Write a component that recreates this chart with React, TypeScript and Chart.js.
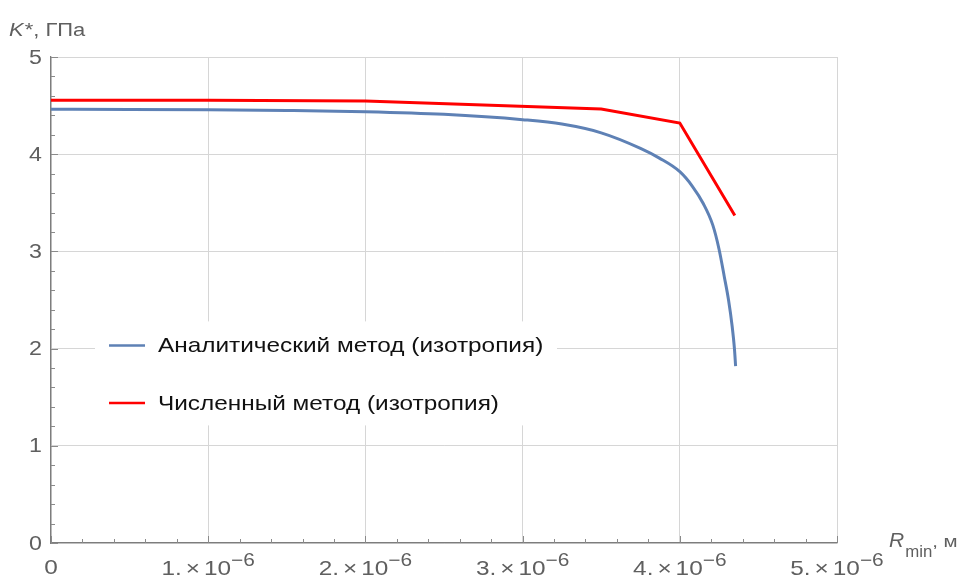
import React, { useEffect, useRef } from 'react';
import { Chart, registerables } from 'chart.js';

Chart.register(...registerables);

// ---- axis ticks ----
const xMajorTicks = [0, 1e-6, 2e-6, 3e-6, 4e-6, 5e-6];
const xTickMantissas = ['0', '1.', '2.', '3.', '4.', '5.'];
const xTickExponent = '\u22126';
const xMinorTicks = [
  0.2e-6, 0.4e-6, 0.6e-6, 0.8e-6,
  1.2e-6, 1.4e-6, 1.6e-6, 1.8e-6,
  2.2e-6, 2.4e-6, 2.6e-6, 2.8e-6,
  3.2e-6, 3.4e-6, 3.6e-6, 3.8e-6,
  4.2e-6, 4.4e-6, 4.6e-6, 4.8e-6,
];
const yMajorTicks = [0, 1, 2, 3, 4, 5];
const yTickLabels = ['0', '1', '2', '3', '4', '5'];
const yMinorTicks = [
  0.2, 0.4, 0.6, 0.8, 1.2, 1.4, 1.6, 1.8, 2.2, 2.4, 2.6, 2.8,
  3.2, 3.4, 3.6, 3.8, 4.2, 4.4, 4.6, 4.8,
];

// ---- series ----
const seriesNames = ['Аналитический метод (изотропия)', 'Численный метод (изотропия)'];
const seriesColors = ['#5E81B5', '#FF0000'];

const analyticR = [
  0, 0.5e-6, 1e-6, 1.5e-6, 2e-6, 2.5e-6, 3e-6, 3.25e-6, 3.5e-6, 3.75e-6, 3.87e-6,
  4.0e-6, 4.08e-6, 4.15e-6, 4.21e-6, 4.25e-6, 4.283e-6, 4.31e-6, 4.333e-6, 4.348e-6, 4.355e-6,
];
const analyticK = [
  4.462, 4.461, 4.457, 4.45, 4.437, 4.41, 4.355, 4.31, 4.22, 4.06, 3.96,
  3.82, 3.67, 3.49, 3.27, 3.02, 2.74, 2.5, 2.23, 1.99, 1.82,
];

const numericR = [0, 1e-6, 2e-6, 3.5e-6, 4e-6, 4.35e-6];
const numericK = [4.556, 4.556, 4.548, 4.465, 4.32, 3.37];

const yTitleItalic = 'K';
const yTitleRest = '*, ГПа';
const xTitleItalic = 'R';
const xTitleSub = 'min';
const xTitleRest = ', м';

const FONT = '"Liberation Sans", Arial, sans-serif';
const TICK_COLOR = '#5f5f5f';
const SX = 1.16; // horizontal text stretch seen in the reference

function drawText(ctx: any, s: string, x: number, y: number, font: string, align: string = 'left', sx: number = SX) {
  ctx.font = font;
  const w = ctx.measureText(s).width * sx;
  const x0 = align === 'right' ? x - w : align === 'center' ? x - w / 2 : x;
  ctx.save();
  ctx.textAlign = 'left';
  ctx.translate(x0, y);
  ctx.scale(sx, 1);
  ctx.fillText(s, 0, 0);
  ctx.restore();
  return w;
}

function textWidth(ctx: any, s: string, font: string, sx: number = SX) {
  ctx.font = font;
  return ctx.measureText(s).width * sx;
}

const decorPlugin = {
  id: 'mmaDecor',
  afterDraw(chart: any) {
    const { ctx, chartArea: a, scales } = chart;
    const xs = scales.x;
    const ys = scales.y;
    ctx.save();

    // tick marks (inward, Mathematica style)
    ctx.strokeStyle = '#8a8a8a';
    ctx.lineWidth = 1;
    const seg = (x1: number, y1: number, x2: number, y2: number) => {
      ctx.beginPath();
      ctx.moveTo(x1, y1);
      ctx.lineTo(x2, y2);
      ctx.stroke();
    };
    yMinorTicks.forEach((v) => {
      const py = Math.round(ys.getPixelForValue(v)) + 0.5;
      seg(a.left, py, a.left + 4, py);
    });
    yMajorTicks.forEach((v) => {
      const py = Math.round(ys.getPixelForValue(v)) + 0.5;
      seg(a.left, py, a.left + 7, py);
    });
    xMinorTicks.forEach((v) => {
      const px = Math.round(xs.getPixelForValue(v)) + 0.5;
      seg(px, a.bottom, px, a.bottom - 4);
    });
    xMajorTicks.forEach((v) => {
      const px = Math.round(xs.getPixelForValue(v)) + 0.5;
      seg(px, a.bottom, px, a.bottom - 7);
    });

    // y tick labels
    ctx.fillStyle = TICK_COLOR;
    ctx.textBaseline = 'middle';
    yMajorTicks.forEach((v, i) => {
      drawText(ctx, yTickLabels[i], a.left - 9, ys.getPixelForValue(v) + 1, `20px ${FONT}`, 'right');
    });

    // x tick labels
    ctx.textBaseline = 'alphabetic';
    const base = a.bottom + 32;
    const mainFont = `21px ${FONT}`;
    const supFont = `18px ${FONT}`;
    xMajorTicks.forEach((v, i) => {
      const px = xs.getPixelForValue(v);
      const m = xTickMantissas[i];
      if (m === '0') {
        drawText(ctx, '0', px, base - 1, mainFont, 'center');
        return;
      }
      const wM = textWidth(ctx, m, mainFont);
      const wX = textWidth(ctx, '×', mainFont);
      const wT = textWidth(ctx, '10', mainFont);
      const wE = textWidth(ctx, xTickExponent, supFont);
      const g1 = 4;
      const g2 = 4;
      const total = wM + g1 + wX + g2 + wT + wE;
      let cx = px - total / 2;
      drawText(ctx, m, cx, base, mainFont);
      cx += wM + g1;
      drawText(ctx, '×', cx, base, mainFont);
      cx += wX + g2;
      drawText(ctx, '10', cx, base, mainFont);
      cx += wT;
      drawText(ctx, xTickExponent, cx, base - 9, supFont);
    });

    // axis titles
    ctx.fillStyle = TICK_COLOR;
    let tx = 9;
    tx += drawText(ctx, yTitleItalic, tx, 36, `italic 18px ${FONT}`, 'left', 1.22) + 1;
    drawText(ctx, yTitleRest, tx, 36, `18px ${FONT}`, 'left', 1.22);

    const xb = a.bottom + 4;
    let rx = a.right + 52;
    rx += drawText(ctx, xTitleItalic, rx, xb, `italic 21px ${FONT}`, 'left', 1.0) + 1;
    rx += drawText(ctx, xTitleSub, rx, xb + 10, `16px ${FONT}`, 'left', 1.05);
    drawText(ctx, xTitleRest, rx, xb, `17px ${FONT}`, 'left', 1.2);

    // legend (inside plot)
    const lx = xs.getPixelForValue(0.28e-6);
    const ly = ys.getPixelForValue(2.28);
    const lw = 462;
    const lh = 104;
    ctx.fillStyle = '#ffffff';
    ctx.fillRect(lx, ly, lw, lh);
    ctx.textBaseline = 'middle';
    seriesNames.forEach((name, i) => {
      const yy = ly + 24 + i * 57.5;
      ctx.strokeStyle = seriesColors[i];
      ctx.lineWidth = 2.5;
      ctx.beginPath();
      ctx.moveTo(lx + 14, yy);
      ctx.lineTo(lx + 50, yy);
      ctx.stroke();
      ctx.fillStyle = '#111111';
      drawText(ctx, name, lx + 63, yy + 1, `21px ${FONT}`);
    });

    ctx.restore();
  },
};

export default function App() {
  const ref = useRef<HTMLCanvasElement>(null);
  useEffect(() => {
    const analytic = analyticR.map((r, i) => ({ x: r, y: analyticK[i] }));
    const numeric = numericR.map((r, i) => ({ x: r, y: numericK[i] }));
    const chart = new Chart(ref.current as HTMLCanvasElement, {
      type: 'line',
      data: {
        datasets: [
          {
            label: seriesNames[0],
            data: analytic,
            borderColor: seriesColors[0],
            borderWidth: 3,
            pointRadius: 0,
            cubicInterpolationMode: 'monotone',
            fill: false,
          },
          {
            label: seriesNames[1],
            data: numeric,
            borderColor: seriesColors[1],
            borderWidth: 3,
            pointRadius: 0,
            tension: 0,
            fill: false,
          },
        ],
      },
      options: {
        animation: false,
        responsive: false,
        devicePixelRatio: 1,
        layout: { padding: { top: 57, right: 132, left: 0, bottom: 0 } },
        plugins: { legend: { display: false }, tooltip: { enabled: false }, title: { display: false } },
        scales: {
          x: {
            type: 'linear',
            min: 0,
            max: 5e-6,
            afterBuildTicks: (s: any) => {
              s.ticks = xMajorTicks.map((v) => ({ value: v }));
            },
            afterFit: (s: any) => {
              s.height = 35;
            },
            ticks: { display: false },
            grid: { color: '#d6d6d6', lineWidth: 1, drawTicks: false },
            border: { color: '#7d7d7d', width: 1.3 },
          },
          y: {
            type: 'linear',
            min: 0,
            max: 5,
            afterBuildTicks: (s: any) => {
              s.ticks = yMajorTicks.map((v) => ({ value: v }));
            },
            afterFit: (s: any) => {
              s.width = 51;
            },
            ticks: { display: false },
            grid: { color: '#d6d6d6', lineWidth: 1, drawTicks: false },
            border: { color: '#7d7d7d', width: 1.3 },
          },
        },
      } as any,
      plugins: [decorPlugin],
    });
    return () => chart.destroy();
  }, []);
  return (
    <div style={{ position: 'fixed', left: 0, top: 0, width: 969, height: 578, background: '#ffffff' }}>
      <canvas ref={ref} width={969} height={578} style={{ display: 'block', width: 969, height: 578 }} />
    </div>
  );
}
